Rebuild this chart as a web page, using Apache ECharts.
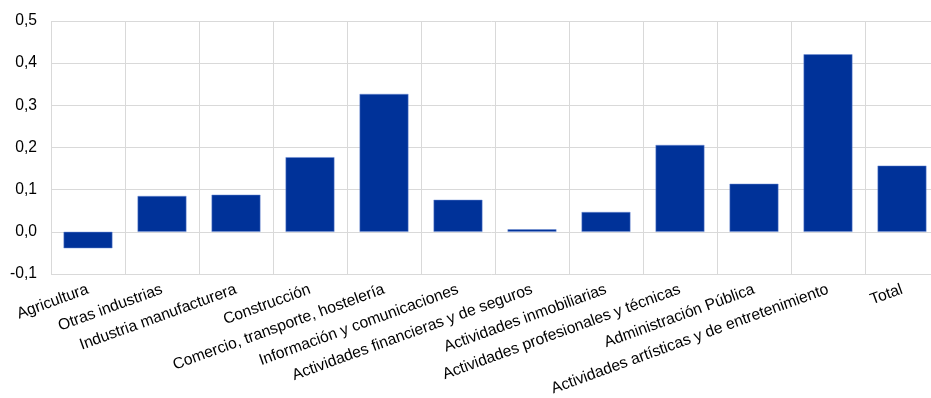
<!DOCTYPE html>
<html>
<head>
<meta charset="utf-8">
<script src="https://cdn.jsdelivr.net/npm/echarts@6/dist/echarts.min.js"></script>
<style>
  html, body { margin: 0; padding: 0; background: #fff; }
  #chart { width: 931px; height: 398px; }
</style>
</head>
<body>
<div id="chart"></div>
<script>
// sectores
const categories = [
  'Agricultura',
  'Otras industrias',
  'Industria manufacturera',
  'Construcción',
  'Comercio, transporte, hostelería',
  'Información y comunicaciones',
  'Actividades financieras y de seguros',
  'Actividades inmobiliarias',
  'Actividades profesionales y técnicas',
  'Administración Pública',
  'Actividades artísticas y de entretenimiento',
  'Total'
]
const values = [-0.039, 0.085, 0.088, 0.177, 0.327, 0.076, 0.006, 0.047, 0.206, 0.114, 0.421, 0.157]

const chart = echarts.init(document.getElementById('chart'))
chart.setOption({
  animation: false,
  grid: {
    top: 21,
    left: 51,
    right: -8, // el último sector queda cortado por el borde, como en el original
    bottom: 124,
    outerBoundsMode: 'none',
  },
  xAxis: {
    type: 'category',
    data: categories,
    axisLine: { show: false },
    axisTick: { show: false },
    splitLine: {
      show: true,
      lineStyle: { color: '#d9d9d9', width: 1 },
    },
    axisLabel: {
      rotate: 20,
      interval: 0,
      margin: 15,
      color: '#000',
      fontFamily: 'Liberation Sans, Arial, sans-serif',
      fontSize: 15.7,
    },
  },
  yAxis: {
    type: 'value',
    min: -0.1,
    max: 0.5,
    interval: 0.1,
    axisLine: { show: false },
    axisTick: { show: false },
    splitLine: {
      lineStyle: { color: '#d9d9d9', width: 1 },
    },
    axisLabel: {
      color: '#000',
      margin: 14,
      fontFamily: 'Liberation Sans, Arial, sans-serif',
      fontSize: 15.7,
      formatter: (v) => v.toFixed(1).replace('.', ','),
    },
  },
  series: [
    {
      type: 'bar',
      data: values,
      barWidth: '66%',
      itemStyle: {
        color: '#003299',
        borderColor: '#6f8fd6',
        borderWidth: 0.5,
      },
    },
  ],
})
</script>
</body>
</html>
